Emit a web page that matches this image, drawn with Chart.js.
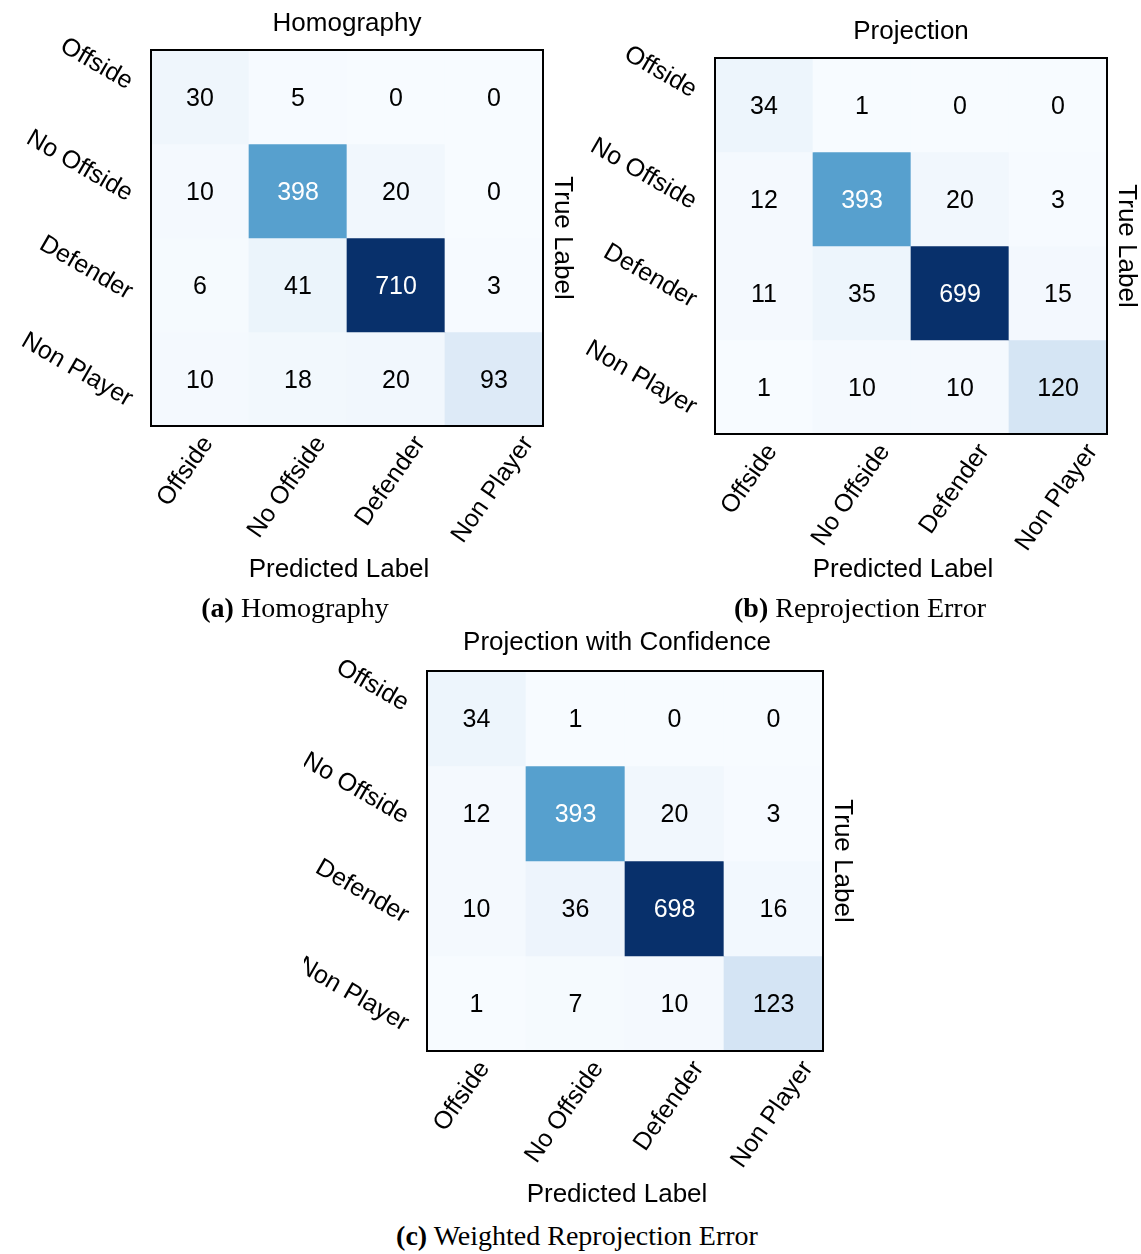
<!DOCTYPE html>
<html>
<head>
<meta charset="utf-8">
<script src="https://cdn.jsdelivr.net/npm/chart.js@4.4.1/dist/chart.umd.min.js"></script>
<style>
  body { margin: 0; background: #fff; width: 1141px; height: 1254px; position: relative; overflow: hidden; }
  canvas { position: absolute; }
  .caption {
    position: absolute;
    font: 28px 'Liberation Serif', 'Times New Roman', serif;
    line-height: 28px;
    color: #000;
    white-space: nowrap;
    transform: translateX(-50%);
  }
</style>
</head>
<body>
<canvas id="homography" width="585" height="590" style="left:0;top:0"></canvas>
<canvas id="projection" width="571" height="590" style="left:570px;top:0"></canvas>
<canvas id="projectionConf" width="576" height="590" style="left:304px;top:620px"></canvas>
<div class="caption" style="left:295px;top:594px"><b>(a)</b> Homography</div>
<div class="caption" style="left:860px;top:594px"><b>(b)</b> Reprojection Error</div>
<div class="caption" style="left:577px;top:1222px"><b>(c)</b> Weighted Reprojection Error</div>
<script>
const predictedLabels = ["Offside", "No Offside", "Defender", "Non Player"];
const trueLabels = ["Offside", "No Offside", "Defender", "Non Player"];

// rows = true label, columns = predicted label
const homography = [
  [30, 5, 0, 0],
  [10, 398, 20, 0],
  [6, 41, 710, 3],
  [10, 18, 20, 93],
];
const projection = [
  [34, 1, 0, 0],
  [12, 393, 20, 3],
  [11, 35, 699, 15],
  [1, 10, 10, 120],
];
const projectionConf = [
  [34, 1, 0, 0],
  [12, 393, 20, 3],
  [10, 36, 698, 16],
  [1, 7, 10, 123],
];

const sans = "'Liberation Sans', Arial, sans-serif";

// matplotlib "Blues" colour stops
const bluesStops = [
  [247, 251, 255], [222, 235, 247], [198, 219, 239], [158, 202, 225],
  [107, 174, 214], [66, 146, 198], [33, 113, 181], [8, 81, 156], [8, 48, 107],
];

function blues(t) {
  t = Math.min(1, Math.max(0, t));
  const pos = t * (bluesStops.length - 1);
  const i = Math.min(Math.floor(pos), bluesStops.length - 2);
  const f = pos - i;
  const a = bluesStops[i];
  const b = bluesStops[i + 1];
  const c = a.map((v, k) => Math.round(v + (b[k] - v) * f));
  return `rgb(${c[0]}, ${c[1]}, ${c[2]})`;
}

function matrixText(title, values, vmin, vmax, gaps) {
  return {
    id: "matrixText",
    afterDatasetsDraw(chart) {
      const { ctx, chartArea: area, scales: { x, y } } = chart;
      const midX = (area.left + area.right) / 2;
      ctx.save();

      // counts
      ctx.font = `25px ${sans}`;
      ctx.textAlign = "center";
      ctx.textBaseline = "middle";
      values.forEach((row, r) => {
        row.forEach((v, c) => {
          ctx.fillStyle = v > (vmin + vmax) / 2 ? "#ffffff" : "#000000";
          ctx.fillText(String(v), x.getPixelForValue(c), y.getPixelForValue(r + 0.5) + 2);
        });
      });

      // frame
      ctx.strokeStyle = "#000";
      ctx.lineWidth = 2;
      ctx.strokeRect(area.left, area.top, area.width, area.height);

      ctx.fillStyle = "#000";
      ctx.textBaseline = "alphabetic";

      // title
      ctx.font = `26px ${sans}`;
      ctx.textAlign = "center";
      ctx.fillText(title, midX + gaps.titleShift, area.top - gaps.title);

      // row labels, tilted 30deg
      ctx.font = `25px ${sans}`;
      ctx.textAlign = "right";
      trueLabels.forEach((label, i) => {
        const len = ctx.measureText(label).width;
        ctx.save();
        ctx.translate(area.left - 24, y.getPixelForValue(i + 0.5) + 0.25 * len + 8 * i - 27);
        ctx.rotate(Math.PI / 6);
        ctx.fillText(label, 0, 0);
        ctx.restore();
      });

      // column labels, tilted 55deg
      predictedLabels.forEach((label, i) => {
        const len = ctx.measureText(label).width;
        ctx.save();
        ctx.translate(x.getPixelForValue(i) + 0.25 * len + 5 * i - 6, area.bottom + 17);
        ctx.rotate(-55 * Math.PI / 180);
        ctx.fillText(label, 0, 0);
        ctx.restore();
      });

      // axis titles
      ctx.font = `26px ${sans}`;
      ctx.textAlign = "center";
      ctx.fillText("Predicted Label", midX - 8, area.bottom + gaps.xTitle);

      ctx.save();
      ctx.translate(area.right + 12, (area.top + area.bottom) / 2);
      ctx.rotate(Math.PI / 2);
      ctx.fillText("True Label", 0, 0);
      ctx.restore();

      ctx.restore();
    },
  };
}

function heatmap(id, title, values, padding, gaps) {
  const flat = values.flat();
  const vmin = Math.min(...flat);
  const vmax = Math.max(...flat);
  const datasets = values.map((row, r) => ({
    label: trueLabels[r],
    data: row.map(() => [r, r + 1]),
    backgroundColor: row.map((v) => blues((v - vmin) / (vmax - vmin))),
    borderWidth: 0,
    borderSkipped: false,
    barPercentage: 1,
    categoryPercentage: 1,
    grouped: false,
  }));

  // eslint-disable-next-line no-undef
  return new Chart(document.getElementById(id), {
    type: "bar",
    data: { labels: predictedLabels, datasets },
    options: {
      responsive: false,
      animation: false,
      layout: { padding },
      plugins: {
        legend: { display: false },
        tooltip: { enabled: false },
      },
      scales: {
        x: { display: false, offset: true },
        y: { display: false, min: 0, max: 4, reverse: true },
      },
    },
    plugins: [matrixText(title, values, vmin, vmax, gaps)],
  });
}

heatmap("homography", "Homography", homography,
  { left: 151, top: 50, right: 42, bottom: 164 }, { title: 19, titleShift: 0, xTitle: 151 });
heatmap("projection", "Projection", projection,
  { left: 145, top: 58, right: 34, bottom: 156 }, { title: 19, titleShift: 0, xTitle: 143 });
heatmap("projectionConf", "Projection with Confidence", projectionConf,
  { left: 123, top: 51, right: 57, bottom: 159 }, { title: 21, titleShift: -8, xTitle: 151 });
</script>
</body>
</html>
